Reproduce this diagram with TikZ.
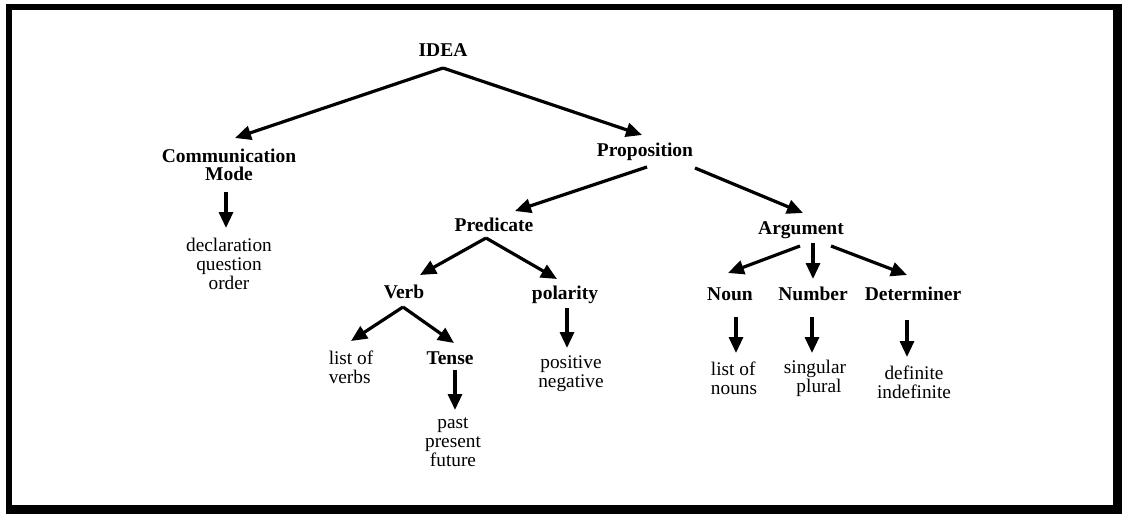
\documentclass[tikz,border=0pt]{standalone}
\usepackage{fontspec}
\setmainfont{Liberation Serif}
\usetikzlibrary{arrows.meta,calc}
\begin{document}
\begin{tikzpicture}[x=1pt,y=-1pt,
  hd/.style={inner sep=0pt,align=center,font=\fontsize{19.5}{18.5}\selectfont\bfseries},
  lf/.style={inner sep=0pt,align=center,font=\fontsize{19.3}{19}\selectfont},
  arr/.style={line width=3.2pt,-{Triangle[length=16pt,width=14pt]}}]
\useasboundingbox (0,0) rectangle (1122,514);
\fill[black] (6,4) rectangle (1122,514);
\fill[white] (12,10) rectangle (1113,505);
% nodes
\node[hd] (idea) at (443,50) {IDEA};
\node[hd] (comm) at (229,165) {Communication\\Mode};
\node[lf] (decl) at (229,264) {declaration\\question\\order};
\node[hd] (prop) at (645,152) {Proposition};
\node[hd] (pred) at (494,225) {Predicate};
\node[hd] (verb) at (404,292) {Verb};
\node[lf,align=left] (lverbs) at (351,367) {list of\\verbs};
\node[hd] (tense) at (450,358) {Tense};
\node[lf] (past) at (453,442) {past\\present\\future};
\node[hd] (pol) at (565,295) {polarity};
\node[lf] (posneg) at (571,374) {positive\\negative};
\node[hd] (arg) at (801,230) {Argument};
\node[hd] (noun) at (730,294) {Noun};
\node[hd] (num) at (813,294) {Number};
\node[hd] (det) at (913,294) {Determiner};
\node[lf,align=left] (lnouns) at (734,378) {list of\\nouns};
\node[lf] (sing) at (815,378) {singular\\\hspace*{8pt}plural};
\node[lf] (defi) at (914,382) {definite\\indefinite};
% connectors
\draw[arr] ($(idea)+(0,18)$) -- ($(comm)+(6,-27)$);
\draw[arr] ($(idea)+(0,18)$) -- ($(prop)+(-3,-17)$);
\draw[arr] ($(comm)+(-3,27)$) -- ($(decl)+(-3,-36)$);
\draw[arr] ($(prop)+(2,15)$) -- ($(pred)+(21,-14)$);
\draw[arr] ($(prop)+(50,16)$) -- ($(arg)+(2,-17)$);
\draw[arr] ($(pred)+(-8,13)$) -- ($(verb)+(16,-17)$);
\draw[arr] ($(pred)+(-8,13)$) -- ($(pol)+(-8,-16)$);
\draw[arr] ($(verb)+(-1,15)$) -- ($(lverbs)+(0,-26)$);
\draw[arr] ($(verb)+(-1,15)$) -- ($(tense)+(4,-15)$);
\draw[arr] ($(tense)+(5,12)$) -- ($(past)+(2,-32)$);
\draw[arr] ($(pol)+(2,13)$) -- ($(posneg)+(-4,-26)$);
\draw[arr] ($(arg)+(-1,16)$) -- ($(noun)+(-2,-21)$);
\draw[arr] ($(arg)+(12,13)$) -- ($(num)+(0,-15)$);
\draw[arr] ($(arg)+(30,16)$) -- ($(det)+(-6,-19)$);
\draw[arr] ($(noun)+(6,23)$) -- ($(lnouns)+(2,-25)$);
\draw[arr] ($(num)+(-1,23)$) -- ($(sing)+(-3,-25)$);
\draw[arr] ($(det)+(-6,26)$) -- ($(defi)+(-7,-25)$);
\end{tikzpicture}
\end{document}
